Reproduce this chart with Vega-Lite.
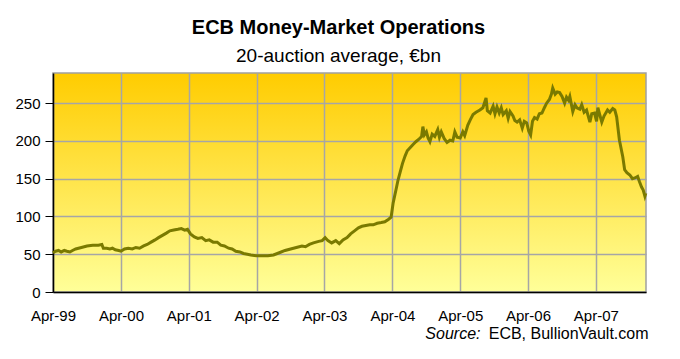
{
  "$schema": "https://vega.github.io/schema/vega-lite/v6.json",
  "width": 593,
  "height": 219,
  "autosize": "none",
  "padding": {"left": 53, "top": 73, "right": 34, "bottom": 67},
  "background": "white",
  "title": {
    "text": "ECB Money-Market Operations",
    "subtitle": "20-auction average, €bn",
    "anchor": "middle",
    "frame": "group",
    "dx": -11,
    "offset": 7,
    "subtitlePadding": 9,
    "font": "Liberation Sans",
    "fontSize": 20,
    "fontWeight": "bold",
    "color": "#000000",
    "subtitleFont": "Liberation Sans",
    "subtitleFontSize": 19,
    "subtitleColor": "#000000"
  },
  "data": {
    "values": [
      {"date": "1999-04-01", "value": 52}, {"date": "1999-04-15", "value": 54}, {"date": "1999-05-01", "value": 55},
      {"date": "1999-05-15", "value": 53}, {"date": "1999-06-01", "value": 55}, {"date": "1999-06-15", "value": 54},
      {"date": "1999-07-01", "value": 53}, {"date": "1999-07-15", "value": 55}, {"date": "1999-08-01", "value": 57},
      {"date": "1999-09-01", "value": 59}, {"date": "1999-10-01", "value": 61}, {"date": "1999-11-01", "value": 62},
      {"date": "1999-12-01", "value": 62}, {"date": "1999-12-20", "value": 63}, {"date": "1999-12-28", "value": 58},
      {"date": "2000-01-15", "value": 58}, {"date": "2000-02-01", "value": 57}, {"date": "2000-02-15", "value": 58},
      {"date": "2000-03-01", "value": 56}, {"date": "2000-03-20", "value": 55}, {"date": "2000-04-01", "value": 54},
      {"date": "2000-04-20", "value": 57}, {"date": "2000-05-10", "value": 58}, {"date": "2000-06-01", "value": 57},
      {"date": "2000-06-20", "value": 59}, {"date": "2000-07-10", "value": 58}, {"date": "2000-08-01", "value": 61},
      {"date": "2000-08-20", "value": 63}, {"date": "2000-09-10", "value": 66}, {"date": "2000-10-01", "value": 69},
      {"date": "2000-10-20", "value": 72}, {"date": "2000-11-10", "value": 75}, {"date": "2000-12-01", "value": 78},
      {"date": "2000-12-20", "value": 81}, {"date": "2001-01-10", "value": 82}, {"date": "2001-02-01", "value": 83},
      {"date": "2001-02-20", "value": 84}, {"date": "2001-03-10", "value": 82}, {"date": "2001-03-25", "value": 83},
      {"date": "2001-04-10", "value": 77}, {"date": "2001-05-01", "value": 73}, {"date": "2001-05-20", "value": 71},
      {"date": "2001-06-10", "value": 72}, {"date": "2001-07-01", "value": 68}, {"date": "2001-07-20", "value": 69},
      {"date": "2001-08-10", "value": 66}, {"date": "2001-09-01", "value": 66}, {"date": "2001-09-20", "value": 62},
      {"date": "2001-10-10", "value": 61}, {"date": "2001-11-01", "value": 58}, {"date": "2001-11-20", "value": 57},
      {"date": "2001-12-10", "value": 54}, {"date": "2002-01-01", "value": 53}, {"date": "2002-01-20", "value": 51},
      {"date": "2002-02-10", "value": 50}, {"date": "2002-03-01", "value": 49}, {"date": "2002-04-01", "value": 48},
      {"date": "2002-05-01", "value": 48}, {"date": "2002-06-01", "value": 48}, {"date": "2002-07-01", "value": 49},
      {"date": "2002-08-01", "value": 52}, {"date": "2002-09-01", "value": 55}, {"date": "2002-10-01", "value": 57},
      {"date": "2002-11-01", "value": 59}, {"date": "2002-12-01", "value": 61}, {"date": "2002-12-20", "value": 60},
      {"date": "2003-01-10", "value": 63}, {"date": "2003-02-01", "value": 65}, {"date": "2003-03-01", "value": 67},
      {"date": "2003-03-20", "value": 68}, {"date": "2003-04-05", "value": 72}, {"date": "2003-04-20", "value": 68},
      {"date": "2003-05-10", "value": 65}, {"date": "2003-06-01", "value": 68}, {"date": "2003-06-20", "value": 64},
      {"date": "2003-07-10", "value": 69}, {"date": "2003-08-01", "value": 72}, {"date": "2003-08-20", "value": 77},
      {"date": "2003-09-10", "value": 81}, {"date": "2003-10-01", "value": 85}, {"date": "2003-10-20", "value": 87},
      {"date": "2003-11-10", "value": 88}, {"date": "2003-12-01", "value": 89}, {"date": "2003-12-20", "value": 89},
      {"date": "2004-01-10", "value": 91}, {"date": "2004-02-01", "value": 92}, {"date": "2004-02-20", "value": 93},
      {"date": "2004-03-10", "value": 96}, {"date": "2004-03-25", "value": 99}, {"date": "2004-04-05", "value": 118},
      {"date": "2004-04-20", "value": 135}, {"date": "2004-05-01", "value": 148}, {"date": "2004-05-12", "value": 158},
      {"date": "2004-05-25", "value": 170}, {"date": "2004-06-08", "value": 180}, {"date": "2004-06-20", "value": 187},
      {"date": "2004-07-05", "value": 191}, {"date": "2004-07-20", "value": 195}, {"date": "2004-08-05", "value": 199},
      {"date": "2004-08-20", "value": 202}, {"date": "2004-09-05", "value": 206}, {"date": "2004-09-12", "value": 219},
      {"date": "2004-09-20", "value": 208}, {"date": "2004-10-01", "value": 212}, {"date": "2004-10-10", "value": 204},
      {"date": "2004-10-20", "value": 199}, {"date": "2004-11-01", "value": 209}, {"date": "2004-11-15", "value": 206},
      {"date": "2004-12-01", "value": 215}, {"date": "2004-12-10", "value": 205}, {"date": "2004-12-20", "value": 212},
      {"date": "2005-01-05", "value": 203}, {"date": "2005-01-20", "value": 198}, {"date": "2005-02-05", "value": 201},
      {"date": "2005-02-20", "value": 200}, {"date": "2005-03-03", "value": 212}, {"date": "2005-03-15", "value": 205},
      {"date": "2005-04-01", "value": 204}, {"date": "2005-04-15", "value": 212}, {"date": "2005-04-25", "value": 207},
      {"date": "2005-05-12", "value": 221}, {"date": "2005-05-25", "value": 228}, {"date": "2005-06-09", "value": 235},
      {"date": "2005-06-25", "value": 238}, {"date": "2005-07-16", "value": 241}, {"date": "2005-08-01", "value": 244},
      {"date": "2005-08-18", "value": 257}, {"date": "2005-08-25", "value": 240}, {"date": "2005-09-09", "value": 237},
      {"date": "2005-09-25", "value": 246}, {"date": "2005-10-05", "value": 236}, {"date": "2005-10-16", "value": 245},
      {"date": "2005-10-28", "value": 237}, {"date": "2005-11-08", "value": 244}, {"date": "2005-11-18", "value": 235},
      {"date": "2005-12-05", "value": 240}, {"date": "2005-12-15", "value": 230}, {"date": "2005-12-25", "value": 239},
      {"date": "2006-01-10", "value": 233}, {"date": "2006-01-20", "value": 227}, {"date": "2006-02-01", "value": 225},
      {"date": "2006-02-15", "value": 228}, {"date": "2006-03-01", "value": 217}, {"date": "2006-03-12", "value": 226},
      {"date": "2006-03-25", "value": 224}, {"date": "2006-04-05", "value": 213}, {"date": "2006-04-15", "value": 208},
      {"date": "2006-04-25", "value": 226}, {"date": "2006-05-06", "value": 231}, {"date": "2006-05-20", "value": 229},
      {"date": "2006-06-01", "value": 236}, {"date": "2006-06-15", "value": 237}, {"date": "2006-06-28", "value": 244},
      {"date": "2006-07-10", "value": 250}, {"date": "2006-07-25", "value": 255}, {"date": "2006-08-05", "value": 262},
      {"date": "2006-08-12", "value": 270}, {"date": "2006-08-25", "value": 262}, {"date": "2006-09-05", "value": 265},
      {"date": "2006-09-18", "value": 264}, {"date": "2006-10-01", "value": 259}, {"date": "2006-10-15", "value": 250},
      {"date": "2006-10-25", "value": 258}, {"date": "2006-11-05", "value": 254}, {"date": "2006-11-12", "value": 259},
      {"date": "2006-11-28", "value": 239}, {"date": "2006-12-10", "value": 248}, {"date": "2006-12-20", "value": 244},
      {"date": "2007-01-05", "value": 242}, {"date": "2007-01-15", "value": 248}, {"date": "2007-01-28", "value": 238},
      {"date": "2007-02-10", "value": 241}, {"date": "2007-02-28", "value": 225}, {"date": "2007-03-10", "value": 236},
      {"date": "2007-03-25", "value": 237}, {"date": "2007-04-05", "value": 226}, {"date": "2007-04-12", "value": 244},
      {"date": "2007-04-22", "value": 235}, {"date": "2007-05-03", "value": 225}, {"date": "2007-05-15", "value": 233},
      {"date": "2007-06-03", "value": 241}, {"date": "2007-06-15", "value": 238}, {"date": "2007-07-01", "value": 243},
      {"date": "2007-07-12", "value": 241}, {"date": "2007-07-22", "value": 232}, {"date": "2007-08-06", "value": 201},
      {"date": "2007-08-24", "value": 179}, {"date": "2007-09-03", "value": 162}, {"date": "2007-09-15", "value": 158},
      {"date": "2007-10-01", "value": 155}, {"date": "2007-10-15", "value": 150}, {"date": "2007-10-28", "value": 151},
      {"date": "2007-11-12", "value": 153}, {"date": "2007-11-22", "value": 146}, {"date": "2007-12-03", "value": 139},
      {"date": "2007-12-12", "value": 135}, {"date": "2007-12-21", "value": 127}, {"date": "2007-12-26", "value": 131}
    ]
  },
  "layer": [
    {
      "mark": {"type": "line", "color": "#7A7A00", "strokeWidth": 3, "interpolate": "linear"},
      "encoding": {
        "x": {
          "field": "date",
          "type": "temporal",
          "scale": {
            "type": "utc",
            "domain": [
              {"year": 1999, "month": 4, "date": 1, "utc": true},
              {"year": 2007, "month": 12, "date": 27, "utc": true}
            ],
            "nice": false
          },
          "axis": {
            "orient": "bottom",
            "values": [
              {"year": 1999, "month": 4, "date": 1, "utc": true},
              {"year": 2000, "month": 4, "date": 1, "utc": true},
              {"year": 2001, "month": 4, "date": 1, "utc": true},
              {"year": 2002, "month": 4, "date": 1, "utc": true},
              {"year": 2003, "month": 4, "date": 1, "utc": true},
              {"year": 2004, "month": 4, "date": 1, "utc": true},
              {"year": 2005, "month": 4, "date": 1, "utc": true},
              {"year": 2006, "month": 4, "date": 1, "utc": true},
              {"year": 2007, "month": 4, "date": 1, "utc": true}
            ],
            "format": "%b-%y",
            "ticks": false,
            "tickSize": 0,
            "labelPadding": 16,
            "labelFlush": false,
            "labelOverlap": false,
            "title": "Source:",
            "titleFont": "Liberation Sans",
            "titleFontSize": 16,
            "titleFontStyle": "italic",
            "titleFontWeight": "normal",
            "titleColor": "#000000",
            "titleAlign": "right",
            "titleBaseline": "alphabetic",
            "titleX": 427,
            "titleY": 46
          }
        },
        "y": {
          "field": "value",
          "type": "quantitative",
          "scale": {"domain": [0, 290], "nice": false},
          "axis": {
            "values": [0, 50, 100, 150, 200, 250],
            "title": null,
            "tickSize": 8,
            "tickWidth": 1,
            "labelPadding": 5
          }
        }
      }
    },
    {
      "mark": {"type": "line", "opacity": 0},
      "encoding": {
        "x": {
          "field": "date",
          "type": "temporal",
          "axis": {
            "orient": "bottom",
            "labels": false,
            "ticks": false,
            "domain": false,
            "grid": false,
            "title": "ECB, BullionVault.com",
            "titleFont": "Liberation Sans",
            "titleFontSize": 16,
            "titleFontWeight": "normal",
            "titleColor": "#000000",
            "titleAlign": "right",
            "titleBaseline": "alphabetic",
            "titleX": 595,
            "titleY": 46
          }
        },
        "y": {"field": "value", "type": "quantitative"}
      }
    }
  ],
  "resolve": {"axis": {"x": "independent"}},
  "config": {
    "font": "Liberation Sans",
    "view": {
      "fill": {
        "gradient": "linear",
        "x1": 0, "y1": 0, "x2": 0, "y2": 1,
        "stops": [
          {"offset": 0, "color": "#FFCC00"},
          {"offset": 1, "color": "#FFFF99"}
        ]
      },
      "stroke": "#A0A0A0",
      "strokeWidth": 1.5
    },
    "axis": {
      "labelFont": "Liberation Sans",
      "labelFontSize": 15,
      "labelColor": "#000000",
      "gridColor": "#A6A6A6",
      "gridWidth": 1.5,
      "gridOpacity": 1,
      "domainColor": "#000000",
      "domainWidth": 1.5,
      "tickColor": "#000000"
    }
  }
}
